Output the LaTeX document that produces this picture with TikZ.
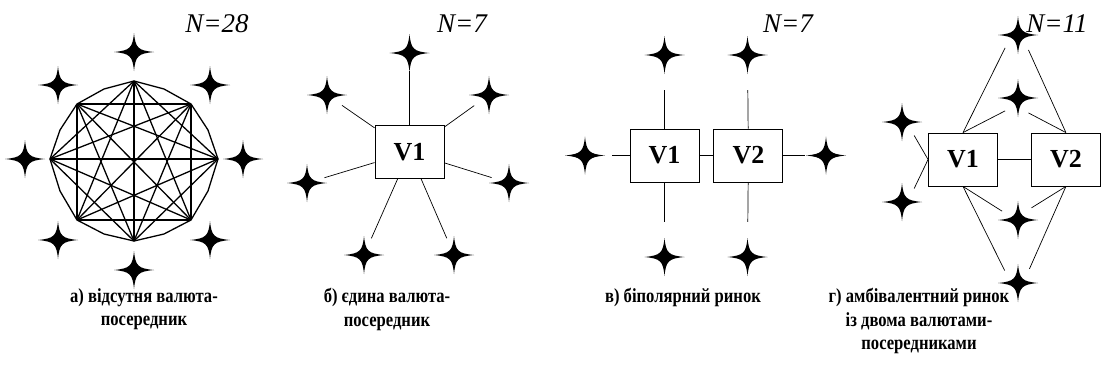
\documentclass[tikz,border=0pt]{standalone}
\usepackage{fontspec}
\setmainfont{Liberation Serif}
\newfontfamily\capfont[FakeStretch=0.83]{Liberation Serif}
\usetikzlibrary{positioning}

\tikzset{
  cur/.style={circle, inner sep=0pt, minimum size=36pt},
  valbox/.style={draw, line width=0.9pt, minimum width=69pt, minimum height=53pt, inner sep=0pt, font=\bfseries\fontsize{26}{26}\selectfont},
  link/.style={line width=0.7pt},
  chord/.style={line width=1.3pt},
  caption/.style={align=center, inner sep=0pt, anchor=north, font=\capfont\bfseries\fontsize{20}{23.5}\selectfont},
  count/.style={anchor=base, font=\itshape\fontsize{27}{27}\selectfont}
}

\begin{document}
\begin{tikzpicture}[x=1pt, y=-1pt]
\useasboundingbox (0,0) rectangle (1105,380);

% а) no vehicle currency
\coordinate (p1) at (134,81);
\coordinate (p2) at (191,104);
\coordinate (p3) at (218,159);
\coordinate (p4) at (191,220);
\coordinate (p5) at (134,241);
\coordinate (p6) at (77,220);
\coordinate (p7) at (50,159);
\coordinate (p8) at (77,104);
\draw[chord] (p1) -- (164,89) -- (p2) -- (208,130) -- (p3) -- (208,191) -- (p4) -- (164,234)
  -- (p5) -- (104,234) -- (p6) -- (60,191) -- (p7) -- (60,130) -- (p8) -- (104,89) -- cycle;
\foreach \i/\j in {1/3,1/4,1/5,1/6,1/7,2/4,2/5,2/6,2/7,2/8,3/5,3/6,3/7,3/8,4/6,4/7,4/8,5/7,5/8,6/8}
  \draw[chord] (p\i) -- (p\j);
\node[cur] (a1) at (134,52) {};
\node[cur] (a2) at (58,85) {};
\node[cur] (a3) at (210,85) {};
\node[cur] (a4) at (25,159) {};
\node[cur] (a5) at (243,159) {};
\node[cur] (a6) at (58,240) {};
\node[cur] (a7) at (210,240) {};
\node[cur] (a8) at (134,270) {};
\node[count] (na) at (217,32) {N=28};

% б) one vehicle currency
\node[valbox] (b0) at (409.5,152) {V1};
\node[cur] (b1) at (409.5,53) {};
\node[cur] (b2) at (327,95) {};
\node[cur] (b3) at (489,95) {};
\node[cur] (b4) at (307,183) {};
\node[cur] (b5) at (509,183) {};
\node[cur] (b6) at (364,255) {};
\node[cur] (b7) at (454,255) {};
\foreach \s in {b1,b2,b3,b4,b5,b6,b7}
  \draw[link] (b0) -- (\s);
\node[count] (nb) at (462,32) {N=7};

% в) bipolar market
\node[valbox] (c1) at (664.5,155.5) {V1};
\node[valbox, right=14pt of c1] (c2) {V2};
\node[cur] (c3) at (664.5,55) {};
\node[cur] (c4) at (747.5,55) {};
\node[cur] (c5) at (585,155.5) {};
\node[cur] (c6) at (826,155.5) {};
\node[cur] (c7) at (664.5,257) {};
\node[cur] (c8) at (747.5,257) {};
\draw[link] (c1) -- (c2);
\draw[link, shorten >=17pt] (c1) -- (c3);
\draw[link, shorten >=17pt] (c2) -- (c4);
\draw[link, shorten >=17pt] (c1) -- (c7);
\draw[link, shorten >=17pt] (c2) -- (c8);
\draw[link, shorten >=9pt] (c1) -- (c5);
\draw[link, shorten >=3pt] (c2) -- (c6);
\node[count] (nc) at (788,32) {N=7};

% г) ambivalent market
\node[valbox] (d1) at (963,159.5) {V1};
\node[valbox, right=33pt of d1] (d2) {V2};
\node[cur] (d3) at (1018,35) {};
\node[cur] (d4) at (1018,98) {};
\node[cur] (d5) at (1018,220) {};
\node[cur] (d6) at (1018,283) {};
\node[cur] (d7) at (902,122) {};
\node[cur] (d8) at (902,202) {};
\draw[link] (d1) -- (d2);
\draw[link] (d1.north) -- (d3.-135);
\draw[link] (d2.north) -- (d3.-55);
\draw[link] (d1.north) -- (d4.-135);
\draw[link] (d2.north) -- (d4.-55);
\draw[link] (d1.south) -- (d5.151);
\draw[link] (d2.south) -- (d5.42);
\draw[link] (d1.south) -- (d6.137);
\draw[link] (d2.south) -- (d6.51);
\draw[link] (d1.west) -- (d7.-48);
\draw[link] (d1.west) -- (d8.48);
\node[count] (nd) at (1057,32) {N=11};

% currency stars
\foreach \s in {a1,a2,a3,a4,a5,a6,a7,a8,b1,b2,b3,b4,b5,b6,b7,c3,c4,c5,c6,c7,c8,d3,d4,d5,d6,d7,d8}
  \fill[shift={(\s)}] (20,0) .. controls (4,1.5) and (1.5,4) .. (0,19)
    .. controls (-1.5,4) and (-4,1.5) .. (-20,0)
    .. controls (-4,-1.5) and (-1.5,-4) .. (0,-19)
    .. controls (1.5,-4) and (4,-1.5) .. cycle;

% captions
\node[caption] (ta) at (144,288) {а) відсутня валюта-\\посередник};
\node[caption] (tb) at (387,288) {б) єдина валюта-\\посередник};
\node[caption] (tc) at (683,288) {в) біполярний ринок};
\node[caption] (td) at (919,288) {г) амбівалентний ринок\\із двома валютами-\\посередниками};

\end{tikzpicture}
\end{document}
